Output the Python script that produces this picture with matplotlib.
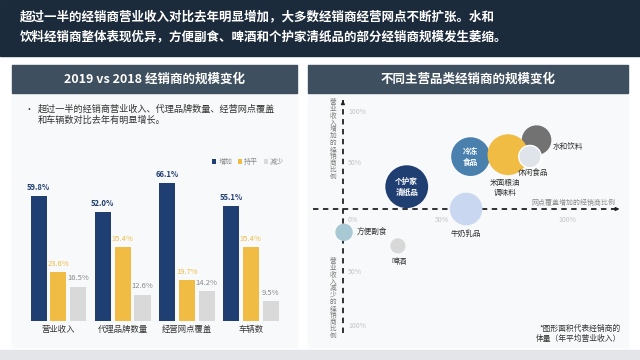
import matplotlib.pyplot as plt
from matplotlib.patches import Rectangle

plt.rcParams['font.family'] = ['Noto Sans CJK SC', 'DejaVu Sans']

W, H = 640, 360

# ---- data ----
headline = ["超过一半的经销商营业收入对比去年明显增加，大多数经销商经营网点不断扩张。水和",
            "饮料经销商整体表现优异，方便副食、啤酒和个护家清纸品的部分经销商规模发生萎缩。"]
left_title = "2019 vs 2018 经销商的规模变化"
right_title = "不同主营品类经销商的规模变化"
bullet = "超过一半的经销商营业收入、代理品牌数量、经营网点覆盖\n和车辆数对比去年有明显增长。"

categories = ["营业收入", "代理品牌数量", "经营网点覆盖", "车辆数"]
increase = [59.8, 52.0, 66.1, 55.1]
flat = [23.6, 35.4, 19.7, 35.4]
decrease = [16.5, 12.6, 14.2, 9.5]
series_names = ["增加", "持平", "减少"]

# bubble chart: x = 网点覆盖增加比例 (%), y = 营业收入增加(+)/减少(-) 比例 (%), volume = 体量 (relative)
bubble_names = ["个护家清纸品", "冷冻食品", "水和饮料", "米面粮油调味料", "休闲食品", "牛奶乳品", "方便副食", "啤酒"]
bubble_x = [29, 58, 88, 75, 85, 56, 0.5, 25]
bubble_y = [23, 54, 71, 56, 54, 0, -24, -38]
bubble_vol = [176, 144, 84, 160, 48, 102, 29, 22]

NAVY = "#1f3e72"
YELLOW = "#f0bc44"
LGRAY = "#d9d9d9"


def box(x0, y0, x1, y1):
    return [x0 / W, 1 - y1 / H, (x1 - x0) / W, (y1 - y0) / H]


fig = plt.figure(figsize=(6.4, 3.6), dpi=100)
fig.patch.set_facecolor("white")

# background / layout layer in pixel coordinates
bg = fig.add_axes([0, 0, 1, 1])
bg.set_xlim(0, W)
bg.set_ylim(H, 0)
bg.axis("off")

bg.add_patch(Rectangle((0, 0), W, 56, color="#1c2b3c"))
for i, line in enumerate(headline):
    bg.text(20, 16.5 + i * 20, line, color="white", fontsize=9.0, fontweight="bold", va="center", ha="left")

bg.add_patch(Rectangle((0, 350), W, 10, color="#e3e5e8"))
for x0, x1, title in [(12, 297, left_title), (308, 628, right_title)]:
    bg.add_patch(Rectangle((x0, 93), x1 - x0, 254, color="#f8f9fa"))
    bg.add_patch(Rectangle((x0, 65), x1 - x0, 28, color="#3e4f5f"))
    bg.text((x0 + x1) / 2, 79.5, title, color="white", fontsize=9, fontweight="bold", ha="center", va="center")

bg.text(25, 110, "•", fontsize=6.5, color="#333333", va="center")
bg.text(38, 104, bullet, fontsize=6.6, color="#333333", va="top", linespacing=1.25)

# ---- left: grouped bars ----
ax = fig.add_axes(box(20, 140, 290, 321))
ax.set_facecolor("none")
pos = list(range(len(categories)))
bw, step = 0.25, 0.31
label_colors = [NAVY, "#f0bc44", "#8a8a8a"]
for k, (vals, col) in enumerate(zip([increase, flat, decrease], [NAVY, YELLOW, LGRAY])):
    xs = [p + (k - 1) * step for p in pos]
    bars = ax.bar(xs, vals, width=bw, color=col, label=series_names[k])
    for b, v in zip(bars, vals):
        ax.annotate(f"{v:.1f}%", (b.get_x() + b.get_width() / 2, v), xytext=(0, 3), textcoords="offset points",
                    ha="center", va="bottom", fontsize=5.5, color=label_colors[k],
                    fontweight="bold" if k == 0 else "normal")
ax.set_xlim(-0.6, 3.61)
ax.set_ylim(0, 86.6)
ax.set_xticks(pos)
ax.set_xticklabels(categories, fontsize=6, color="#333333")
ax.tick_params(length=0, pad=3)
ax.set_yticks([])
for s in ax.spines.values():
    s.set_visible(False)
fig.legend(*ax.get_legend_handles_labels(), loc="center", bbox_to_anchor=(248 / W, 1 - 162 / H), ncol=3,
           fontsize=5, frameon=False, handlelength=0.6, handleheight=0.6, handletextpad=0.3,
           columnspacing=0.8, labelcolor="#8a8a8a")

# ---- right: bubble chart ----
bx = fig.add_axes(box(313, 95, 625, 340))
bx.set_facecolor("none")
bx.set_xlim(-13.6, 128.2)
bx.set_ylim(-135, 117.5)
bx.axis("off")

bx.plot([-13.6, 124], [0, 0], ls=(0, (3, 2.5)), lw=1.3, color="#222222", zorder=1)
bx.plot([0, 0], [-127.8, 112], ls=(0, (3, 2.5)), lw=1.3, color="#222222", zorder=1)
bx.annotate("", xy=(127, 0), xytext=(122, 0), arrowprops=dict(arrowstyle="-|>", color="#222222", lw=1, mutation_scale=5))
bx.annotate("", xy=(0, 115), xytext=(0, 108), arrowprops=dict(arrowstyle="-|>", color="#222222", lw=1, mutation_scale=5))

bubble_colors = [NAVY, "#4a80ad", "#727272", YELLOW, "#dfe4ea", "#c9d8f0", "#a8c8d4", "#d8d8d8"]
edges = ["none", "none", "none", "none", "white", "none", "none", "none"]
sizes = [v * 5.4 for v in bubble_vol]
bx.scatter(bubble_x, bubble_y, s=sizes, c=bubble_colors, edgecolors=edges, linewidths=1, zorder=3)

inside = {"个护家清纸品": "个护家\n清纸品", "冷冻食品": "冷冻\n食品"}
outside = {"米面粮油调味料": ("米面粮油\n调味料", (-2, -24), "center"),
           "休闲食品": ("休闲食品", (2, -12), "center"),
           "水和饮料": ("水和饮料", (11.5, -5), "left"),
           "牛奶乳品": ("牛奶乳品", (0, -18), "center"),
           "方便副食": ("方便副食", (9.4, 0), "left"),
           "啤酒": ("啤酒", (0.7, -11.5), "center")}
for name, x, y in zip(bubble_names, bubble_x, bubble_y):
    if name in inside:
        bx.text(x, y, inside[name], color="white", fontsize=5.5, fontweight="bold", ha="center", va="center",
                linespacing=1.3, zorder=4)
    else:
        txt, off, ha = outside[name]
        bx.annotate(txt, (x, y), xytext=off, textcoords="offset points", ha=ha, va="center", fontsize=5.5,
                    color="#333333", linespacing=1.3, zorder=4)

# axis labels and ticks (decorative text)
tick_col = "#c4c4c4"
for t, x, y, ha in [("100%", 348, 112, "left"), ("50%", 348, 163, "left"), ("50%", 348, 272, "left"),
                    ("100%", 348, 326, "left"), ("0%", 348, 220, "left"), ("50%", 442, 220, "center"),
                    ("100%", 567, 220, "center")]:
    bg.text(x, y, t, fontsize=5, color=tick_col, ha=ha, va="center")
bg.text(333, 98, "\n".join("营业收入增加的经销商比例"), fontsize=4.8, color="#7a7a7a", ha="center", va="top",
        linespacing=0.8)
bg.text(333, 257, "\n".join("营业收入减少的经销商比例"), fontsize=4.8, color="#7a7a7a", ha="center", va="top",
        linespacing=0.8)
bg.text(615, 203, "网点覆盖增加的经销商比例", fontsize=5, color="#8a8a8a", ha="right", va="center")
bg.text(621, 334, "*图形面积代表经销商的\n体量（年平均营业收入）", fontsize=5.6, color="#333333", ha="right", va="center",
        linespacing=1.2)

fig.savefig("out.png", dpi=100)
